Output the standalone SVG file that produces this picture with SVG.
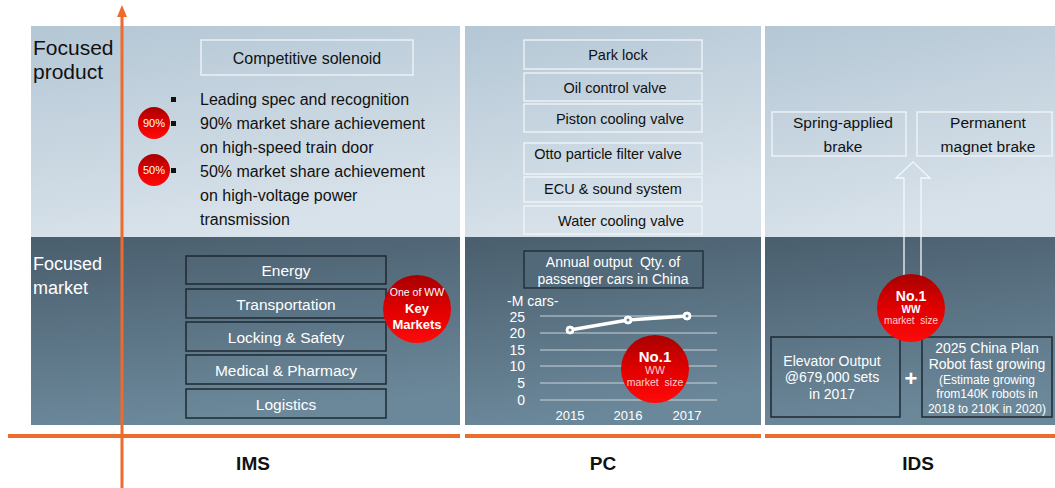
<svg xmlns="http://www.w3.org/2000/svg" width="1055" height="488" viewBox="0 0 1055 488">
<defs>
<linearGradient id="lightG" x1="0" y1="0" x2="0.3" y2="1">
<stop offset="0" stop-color="#b4c7d5"/>
<stop offset="1" stop-color="#d8e2ea"/>
</linearGradient>
<linearGradient id="darkG" x1="0" y1="0" x2="0.2" y2="1">
<stop offset="0" stop-color="#4a5e6d"/>
<stop offset="1" stop-color="#6b889a"/>
</linearGradient>
<linearGradient id="redG" x1="0" y1="0" x2="0" y2="1">
<stop offset="0" stop-color="#a80000"/>
<stop offset="0.5" stop-color="#e00000"/>
<stop offset="1" stop-color="#ff0a0a"/>
</linearGradient>
<style>
text{font-family:"Liberation Sans",Arial,sans-serif}
.lbox{fill:none;stroke:#f2f6f9;stroke-width:1.3}
.dbox{fill:none;stroke:#1d2a33;stroke-width:1.5}
.dk{fill:#111}
.wt{fill:#fff}
.grid{stroke:#c9d3da;stroke-width:1}
.red{fill:url(#redG)}
.orange{stroke:#ed6b2d;fill:none}
</style>
</defs>

<g id="panels">
<rect x="31" y="26" width="429" height="211" fill="url(#lightG)"/>
<rect x="31" y="237" width="429" height="188" fill="url(#darkG)"/>
<rect x="465" y="26" width="296" height="211" fill="url(#lightG)"/>
<rect x="465" y="237" width="296" height="188" fill="url(#darkG)"/>
<rect x="765" y="26" width="290" height="211" fill="url(#lightG)"/>
<rect x="765" y="237" width="290" height="188" fill="url(#darkG)"/>
</g>

<g id="row-labels">
<text x="33" y="55" font-size="21" class="dk">Focused</text>
<text x="33" y="79" font-size="21" class="dk">product</text>
<text x="33" y="270" font-size="18" class="wt">Focused</text>
<text x="33" y="294" font-size="18" class="wt">market</text>
</g>

<g id="ims-product">
<rect class="lbox" x="201" y="40" width="212" height="35"/>
<text x="307" y="64" font-size="16" text-anchor="middle" class="dk">Competitive solenoid</text>
<rect x="171" y="97" width="5" height="5" fill="#111"/>
<rect x="171" y="121" width="5" height="5" fill="#111"/>
<rect x="171" y="168" width="5" height="5" fill="#111"/>
<g font-size="16" class="dk">
<text x="200" y="105">Leading spec and recognition</text>
<text x="200" y="129">90% market share achievement</text>
<text x="200" y="153">on high-speed train door</text>
<text x="200" y="177">50% market share achievement</text>
<text x="200" y="201">on high-voltage power</text>
<text x="200" y="225">transmission</text>
</g>
<g id="badge90">
<circle class="red" cx="154" cy="123" r="16"/>
<text x="154" y="127" font-size="11" text-anchor="middle" class="wt">90%</text>
</g>
<g id="badge50">
<circle class="red" cx="154" cy="170" r="16"/>
<text x="154" y="174" font-size="11" text-anchor="middle" class="wt">50%</text>
</g>
</g>

<g id="ims-market">
<rect class="dbox" x="186" y="256" width="200" height="28"/>
<rect class="dbox" x="186" y="289" width="200" height="29"/>
<rect class="dbox" x="186" y="322" width="200" height="29"/>
<rect class="dbox" x="186" y="355" width="200" height="29"/>
<rect class="dbox" x="186" y="389" width="200" height="29"/>
<g font-size="15.5" text-anchor="middle" class="wt">
<text x="286" y="276">Energy</text>
<text x="286" y="310">Transportation</text>
<text x="286" y="343">Locking &amp; Safety</text>
<text x="286" y="376">Medical &amp; Pharmacy</text>
<text x="286" y="410">Logistics</text>
</g>
<g id="key-markets">
<circle class="red" cx="417" cy="309" r="34"/>
<text x="417" y="296" font-size="10.5" text-anchor="middle" class="wt">One of WW</text>
<text x="417" y="313" font-size="13" font-weight="bold" text-anchor="middle" class="wt">Key</text>
<text x="417" y="329" font-size="13" font-weight="bold" text-anchor="middle" class="wt">Markets</text>
</g>
</g>

<g id="pc-product">
<rect class="lbox" x="524" y="40" width="178" height="29"/>
<rect class="lbox" x="524" y="73" width="178" height="28"/>
<rect class="lbox" x="524" y="104" width="178" height="28"/>
<rect class="lbox" x="524" y="143" width="178" height="31"/>
<rect class="lbox" x="524" y="177" width="178" height="25"/>
<rect class="lbox" x="524" y="206" width="178" height="28"/>
<g font-size="14.5" text-anchor="middle" class="dk">
<text x="618" y="60">Park lock</text>
<text x="615" y="93">Oil control valve</text>
<text x="620" y="124">Piston cooling valve</text>
<text x="608" y="159">Otto particle filter valve</text>
<text x="613" y="194">ECU &amp; sound system</text>
<text x="621" y="226">Water cooling valve</text>
</g>
</g>

<g id="pc-market">
<rect x="524" y="251" width="179" height="37" fill="#52697a" stroke="#1d2a33" stroke-width="1.3"/>
<text x="613" y="267" font-size="14" text-anchor="middle" class="wt" xml:space="preserve">Annual output  Qty. of</text>
<text x="613" y="284" font-size="14" text-anchor="middle" class="wt">passenger cars in China</text>
<text x="507" y="306" font-size="14" class="wt">-M cars-</text>
<g class="grid">
<line x1="540" y1="316" x2="717" y2="316"/>
<line x1="540" y1="333" x2="717" y2="333"/>
<line x1="540" y1="350" x2="717" y2="350"/>
<line x1="540" y1="366" x2="717" y2="366"/>
<line x1="540" y1="383" x2="717" y2="383"/>
<line x1="540" y1="400" x2="717" y2="400"/>
</g>
<g font-size="14" text-anchor="end" class="wt">
<text x="525" y="322">25</text>
<text x="525" y="338">20</text>
<text x="525" y="355">15</text>
<text x="525" y="371">10</text>
<text x="525" y="388">5</text>
<text x="525" y="405">0</text>
</g>
<g font-size="13" text-anchor="middle" class="wt">
<text x="570" y="420">2015</text>
<text x="628" y="420">2016</text>
<text x="687" y="420">2017</text>
</g>
<polyline points="570,330 628,320 687,316" fill="none" stroke="#fff" stroke-width="3.5"/>
<g fill="#fff" stroke="#fff" stroke-width="1">
<circle cx="570" cy="330" r="4"/>
<circle cx="628" cy="320" r="4"/>
<circle cx="687" cy="316" r="4"/>
</g>
<g fill="#6a8596">
<circle cx="570" cy="330" r="1.5"/>
<circle cx="628" cy="320" r="1.5"/>
<circle cx="687" cy="316" r="1.5"/>
</g>
<g id="pc-no1">
<circle class="red" cx="655" cy="369" r="34"/>
<text x="655" y="362" font-size="15" font-weight="bold" text-anchor="middle" class="wt">No.1</text>
<text x="655" y="374" font-size="10.5" text-anchor="middle" fill="#ffd0d0">WW</text>
<text x="655" y="386" font-size="10.5" text-anchor="middle" fill="#ffd0d0" xml:space="preserve">market  size</text>
</g>
</g>

<g id="ids-product">
<rect class="lbox" x="772" y="112" width="134" height="44"/>
<rect class="lbox" x="917" y="112" width="135" height="44"/>
<g font-size="15.5" text-anchor="middle" class="dk">
<text x="843" y="128">Spring-applied</text>
<text x="843" y="152">brake</text>
<text x="988" y="128">Permanent</text>
<text x="988" y="152">magnet brake</text>
</g>
</g>

<g id="connectors">
<path d="M904,276 L904,178 L896,178 L913,162 L930,178 L921,178 L921,276" fill="none" stroke="#f4f7fa" stroke-width="1.3"/>
<line class="orange" x1="122" y1="488" x2="122" y2="14" stroke-width="3"/>
<polygon points="117,17 122,5 127,17" fill="#ed6b2d"/>
<line class="orange" x1="8" y1="436" x2="460" y2="436" stroke-width="4"/>
<line class="orange" x1="465" y1="436" x2="761" y2="436" stroke-width="4"/>
<line class="orange" x1="765" y1="436" x2="1055" y2="436" stroke-width="4"/>
</g>

<g id="ids-market">
<rect class="dbox" x="771" y="337" width="129" height="80"/>
<rect class="dbox" x="922" y="337" width="130" height="80"/>
<g font-size="14" text-anchor="middle" class="wt">
<text x="832" y="366">Elevator Output</text>
<text x="832" y="382">@679,000 sets</text>
<text x="832" y="399">in 2017</text>
<text x="987" y="353">2025 China Plan</text>
<text x="987" y="369">Robot fast growing</text>
</g>
<g font-size="12" text-anchor="middle" class="wt">
<text x="987" y="384">(Estimate growing</text>
<text x="987" y="398">from140K robots in</text>
<text x="987" y="413">2018 to 210K in 2020)</text>
</g>
<text x="911" y="386" font-size="22" font-weight="bold" text-anchor="middle" class="wt">+</text>
<g id="ids-no1">
<circle class="red" cx="911" cy="308" r="34"/>
<text x="911" y="301" font-size="14" font-weight="bold" text-anchor="middle" class="wt">No.1</text>
<text x="911" y="313" font-size="10" font-weight="bold" text-anchor="middle" class="wt">WW</text>
<text x="911" y="324" font-size="10" text-anchor="middle" fill="#ffd0d0" xml:space="preserve">market  size</text>
</g>
</g>

<g id="column-labels" font-size="19" font-weight="bold" text-anchor="middle" class="dk">
<text x="253" y="470">IMS</text>
<text x="603" y="470">PC</text>
<text x="918" y="470">IDS</text>
</g>
</svg>
